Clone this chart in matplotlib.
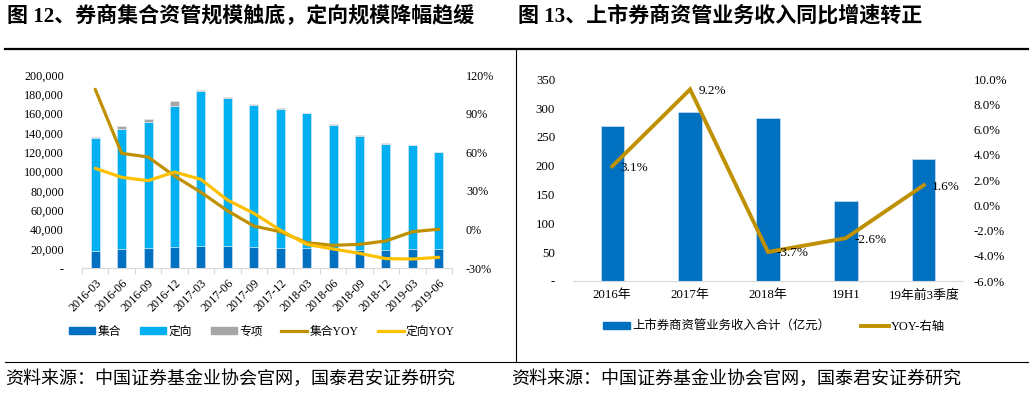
import matplotlib
matplotlib.use("Agg")
import matplotlib.pyplot as plt
import numpy as np
from matplotlib.lines import Line2D
from matplotlib.patches import Patch
from matplotlib.ticker import FuncFormatter, FixedLocator

SERIF_CJK = ['Liberation Serif', 'Noto Sans CJK SC']
CJK = ['Noto Sans CJK SC', 'DejaVu Sans']
plt.rcParams['font.family'] = SERIF_CJK

# ---------------- data: left chart ----------------
quarters = ['2016-03', '2016-06', '2016-09', '2016-12', '2017-03', '2017-06', '2017-09',
            '2017-12', '2018-03', '2018-06', '2018-09', '2018-12', '2019-03', '2019-06']
jihe = [18200, 20300, 21300, 22400, 23400, 23000, 22400, 21300, 20700, 19600, 18900, 19200, 20300, 20300]
dingxiang = [116300, 124100, 130400, 145500, 160000, 153200, 146200, 143200, 139700, 129000, 118300, 109700, 106900, 99700]
zhuanxiang = [1000, 2800, 2800, 4900, 600, 700, 1000, 1000, 600, 700, 1000, 700, 700, 300]
jihe_yoy = [108.9, 59.2, 56.4, 41.6, 29.0, 14.7, 2.8, -1.6, -10.1, -12.2, -11.4, -8.8, -1.6, 0.3]
dingxiang_yoy = [47.6, 40.6, 38.0, 44.7, 39.0, 23.0, 12.7, -0.3, -11.4, -15.0, -18.4, -22.5, -22.8, -21.5]

# ---------------- data: right chart ----------------
periods = ['2016年', '2017年', '2018年', '19H1', '19年前3季度']
revenue = [269, 293, 282, 138, 211]
rev_yoy = [3.1, 9.2, -3.7, -2.6, 1.6]

C_JIHE = '#0070C0'
C_DX = '#00B0F0'
C_ZX = '#A6A6A6'
C_JYOY = '#BF9000'
C_DYOY = '#FFC000'

W, H = 1033, 399
fig = plt.figure(figsize=(W / 100, H / 100), dpi=100)

def fx(px):
    return px / W

def fy(py):
    return 1 - py / H

# ---------------- left chart ----------------
ax1 = fig.add_axes([fx(82), fy(268.3), fx(452 - 82), fy(75) - fy(268.3)])
x = np.arange(len(quarters))
bw = 0.34
ax1.bar(x, jihe, bw, color=C_JIHE, edgecolor='#DDEBF7', linewidth=0.4, zorder=2)
ax1.bar(x, dingxiang, bw, bottom=jihe, color=C_DX, edgecolor='#DDEBF7', linewidth=0.4, zorder=2)
bot3 = np.array(jihe) + np.array(dingxiang)
ax1.bar(x, zhuanxiang, bw, bottom=bot3, color=C_ZX, edgecolor='#EEEEEE', linewidth=0.4, zorder=2)
ax1.set_xlim(-0.5, len(quarters) - 0.5)
ax1.set_ylim(0, 200000)
ax1.set_yticks(np.arange(0, 200001, 20000))
ax1.yaxis.set_major_formatter(FuncFormatter(lambda v, p: '-' if v == 0 else f'{int(v):,}'))
ax1.set_xticks(x)
ax1.set_xticklabels(quarters, rotation=45, ha='right', va='top', rotation_mode='anchor', fontsize=8.7)
ax1.xaxis.set_minor_locator(FixedLocator(np.arange(-0.5, len(quarters), 1.0)))
ax1.tick_params(axis='x', which='major', length=0, pad=6)
ax1.tick_params(axis='x', which='minor', length=4, color='#D9D9D9', width=0.8)
ax1.tick_params(axis='y', length=0, labelsize=8.7, pad=13)
for s in ['top', 'right', 'left']:
    ax1.spines[s].set_visible(False)
ax1.spines['bottom'].set_color('#D9D9D9')
ax1.set_facecolor('none')

ax1b = ax1.twinx()
ax1b.plot(x, jihe_yoy, color=C_JYOY, lw=2.3, solid_capstyle='round', zorder=3)
ax1b.plot(x, dingxiang_yoy, color=C_DYOY, lw=2.3, solid_capstyle='round', zorder=3)
ax1b.set_ylim(-30, 120)
ax1b.set_yticks(np.arange(-30, 121, 30))
ax1b.yaxis.set_major_formatter(FuncFormatter(lambda v, p: f'{int(v)}%'))
ax1b.tick_params(axis='y', length=0, labelsize=8.7, pad=10)
for s in ['top', 'right', 'left', 'bottom']:
    ax1b.spines[s].set_visible(False)

handles1 = [Patch(color=C_JIHE), Patch(color=C_DX), Patch(color=C_ZX),
            Line2D([], [], color=C_JYOY, lw=2.3), Line2D([], [], color=C_DYOY, lw=2.3)]
labels1 = ['集合', '定向', '专项', '集合YOY', '定向YOY']
fig.legend(handles1, labels1, loc='center', bbox_to_anchor=(fx(262), fy(332)), ncol=5,
           frameon=False, handlelength=2.2, handleheight=0.5,
           handletextpad=0.2, columnspacing=1.6, prop={'family': SERIF_CJK, 'size': 8.5})

# ---------------- right chart ----------------
ax2 = fig.add_axes([fx(573.3), fy(281), fx(962.7 - 573.3), fy(79.3) - fy(281)])
x2 = np.arange(len(periods))
ax2.bar(x2, revenue, 0.30, color=C_JIHE, edgecolor='#DDEBF7', linewidth=0.4, zorder=2)
ax2.set_xlim(-0.5, len(periods) - 0.5)
ax2.set_ylim(0, 350)
ax2.set_yticks(np.arange(0, 351, 50))
ax2.yaxis.set_major_formatter(FuncFormatter(lambda v, p: '-' if v == 0 else f'{int(v)}'))
ax2.set_xticks(x2)
ax2.set_xticklabels(periods, fontsize=9.3)
ax2.tick_params(axis='x', length=0, pad=6)
ax2.tick_params(axis='y', length=0, labelsize=9.3, pad=13)
for s in ['top', 'right', 'left']:
    ax2.spines[s].set_visible(False)
ax2.spines['bottom'].set_color('#D9D9D9')
ax2.set_facecolor('none')

ax2b = ax2.twinx()
ax2b.plot(x2, rev_yoy, color=C_JYOY, lw=2.8, solid_joinstyle='miter', zorder=3)
ax2b.set_ylim(-6, 10)
ax2b.set_yticks(np.arange(-6, 10.01, 2))
ax2b.yaxis.set_major_formatter(FuncFormatter(lambda v, p: f'{v:.1f}%'))
ax2b.tick_params(axis='y', length=0, labelsize=9.3, pad=8)
for s in ['top', 'right', 'left', 'bottom']:
    ax2b.spines[s].set_visible(False)
for xi, v in zip(x2, rev_yoy):
    ax2b.annotate(f'{v:.1f}%', (xi, v), xytext=(6, -1), textcoords='offset points',
                  ha='left', va='center', fontsize=9.5)

handles2 = [Patch(color=C_JIHE), Line2D([], [], color=C_JYOY, lw=2.8)]
labels2 = ['上市券商资管业务收入合计（亿元）', 'YOY-右轴']
fig.legend(handles2, labels2, loc='center', bbox_to_anchor=(fx(774), fy(327)), ncol=2,
           frameon=False, handlelength=2.2, handleheight=0.5, handletextpad=0.2,
           columnspacing=2.5, prop={'family': SERIF_CJK, 'size': 8.9})

# ---------------- titles, rules, sources ----------------
fig.text(fx(7), fy(16), '图 12、券商集合资管规模触底，定向规模降幅趋缓', ha='left', va='center',
         fontsize=15.1, fontweight='bold', family=SERIF_CJK)
fig.text(fx(518), fy(16), '图 13、上市券商资管业务收入同比增速转正', ha='left', va='center',
         fontsize=15.1, fontweight='bold', family=SERIF_CJK)

fig.add_artist(Line2D([fx(5), fx(1028)], [fy(48.5), fy(48.5)], color='black', lw=1.6))
fig.add_artist(Line2D([fx(516), fx(516)], [fy(48.5), fy(362)], color='black', lw=0.8))
fig.add_artist(Line2D([fx(5), fx(1028)], [fy(362), fy(362)], color='black', lw=0.8))

src = '资料来源：中国证券基金业协会官网，国泰君安证券研究'
fig.text(fx(5), fy(379), src, ha='left', va='center', fontsize=13, family=CJK)
fig.text(fx(511), fy(379), src, ha='left', va='center', fontsize=13, family=CJK)

fig.savefig('out.png', dpi=100)
